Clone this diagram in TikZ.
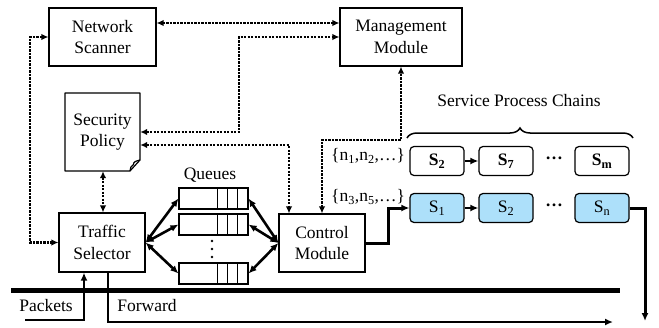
\documentclass[tikz,border=0pt]{standalone}
\usepackage{fontspec}
\setmainfont{LiberationSerif}[Extension=.ttf,UprightFont=*-Regular,BoldFont=*-Bold,ItalicFont=*-Italic,BoldItalicFont=*-BoldItalic]
\usetikzlibrary{arrows.meta,decorations.pathreplacing,calc}
\definecolor{chainblue}{RGB}{173,224,250}
\begin{document}
\begin{tikzpicture}[x=1pt,y=-1pt,
  font=\rmfamily\fontsize{17.5}{21.5}\selectfont,
  box/.style={draw,line width=1.2pt,align=center,inner sep=0pt},
  qbox/.style={draw,line width=1.1pt,minimum width=69pt,minimum height=21pt,inner sep=0pt},
  chain/.style={draw,line width=1.2pt,rounded corners=4pt,minimum width=54pt,minimum height=29pt,inner sep=0pt},
  tipd/.tip={Latex[length=7pt,width=6.5pt]},
  tips/.tip={Latex[length=8pt,width=7pt]},
  dotarrow/.style={line width=2.6pt,dash pattern=on 2.2pt off 1.3pt,tipd-tipd},
  thickarrow/.style={line width=2.6pt,tips-tips},
  flow/.style={line width=2.6pt,-tips},
  lbl/.style={inner sep=0pt}
]
\useasboundingbox (0,0) rectangle (659,327);

% boxes
\node[box,minimum width=107pt,minimum height=58pt] (ns) at (102.5,37) {Network\\Scanner};
\node[box,minimum width=122pt,minimum height=58pt] (mm) at (401,37) {Management\\Module};
\node[inner sep=0pt,minimum width=75pt,minimum height=78pt,align=center] (sp) at (102.5,132) {Security\\Policy};
\draw[line width=1.2pt,line join=round] (65,93) -- (140,93) -- (140,160) -- (130,171) -- (65,171) -- cycle;
\draw[line width=1.2pt,line join=round] (140,160) .. controls (136,161) and (133,162) .. (133.5,164.5) .. controls (131,166) and (130,168) .. (130,171);
\node[box,minimum width=86pt,minimum height=59pt] (ts) at (102,242.5) {Traffic\\Selector};
\node[box,minimum width=86pt,minimum height=58pt] (cm) at (322,243) {Control\\Module};

% queues
\foreach \n/\y in {q1/198.5,q2/224.5,q3/273.5}{
  \node[qbox] (\n) at (213.5,\y) {};
  \foreach \dx in {39,49,59}{
    \draw[line width=1.1pt] ($(\n.north west)+(\dx,0)$) -- ($(\n.south west)+(\dx,0)$);
  }
}
\node[lbl] (qlbl) at (210,175) {Queues};
\foreach \y in {241,249,257} \fill (212,\y) circle (1.4pt);

% chains
\node[chain] (a1) at (437,161) {\bfseries S\textsubscript{2}};
\node[chain] (a2) at (506,161) {\bfseries S\textsubscript{7}};
\node[chain] (a3) at (602,161) {\bfseries S\textsubscript{m}};
\node[chain,fill=chainblue] (b1) at (437,208) {S\textsubscript{1}};
\node[chain,fill=chainblue] (b2) at (506,208) {S\textsubscript{2}};
\node[chain,fill=chainblue] (b3) at (602,208) {S\textsubscript{n}};
\node[lbl] (d1) at (554,158) {\textbf{\ldots}};
\node[lbl] (d2) at (554,205) {\textbf{\ldots}};
\node[lbl] (l1) at (368,156) {\{n\textsubscript{1},n\textsubscript{2},\ldots\}};
\node[lbl] (l2) at (368,197) {\{n\textsubscript{3},n\textsubscript{5},\ldots\}};
\node[lbl] (spc) at (519,101) {Service Process Chains};
\draw[line width=1.5pt,decorate,decoration={brace,amplitude=10pt}] (407,138) -- (633,138);

\draw[flow] (a1) -- (a2);
\draw[flow] (b1) -- (b2);

% dotted connectors
\draw[dotarrow] (ns.east |- 0,23) -- (mm.west |- 0,23);
\draw[dotarrow] (sp.east |- 0,132) -- (239,132) -- (239,37) -- (mm.west);
\draw[dotarrow] (sp.east |- 0,145) -- (289,145) -- (cm.north -| 289,0);
\draw[dotarrow] (cm.north) -- (322,140) -- (401,140) -- (mm.south);
\draw[dotarrow] (ns.west) -- (30,37) -- (30,242.5) -- (ts.west);
\draw[dotarrow] (sp.south -| 103,0) -- (ts.north -| 103,0);

% queue connectors
\foreach \n in {q1,q2,q3}{
  \draw[thickarrow] (ts.east) -- (\n.west);
  \draw[thickarrow] (\n.east) -- (cm.west);
}

% control -> chain
\draw[line width=3pt,-tips] (cm.east) -- (388,243) -- (388,208) -- (b1.west);
\draw[line width=3pt,-tips] (b3.east) -- (645,208) -- (645,321);

% bus
\draw[line width=5pt] (11,290) -- (620,290);

% packets / forward
\draw[line width=2.6pt,-tips] (25,320) -- (84,320) -- (ts.south -| 84,0);
\draw[line width=2.2pt,-tips] (ts.south -| 108,0) -- (108,322) -- (613,322);
\node[lbl] (pk) at (46,306) {Packets};
\node[lbl] (fw) at (147,306) {Forward};
\end{tikzpicture}
\end{document}
